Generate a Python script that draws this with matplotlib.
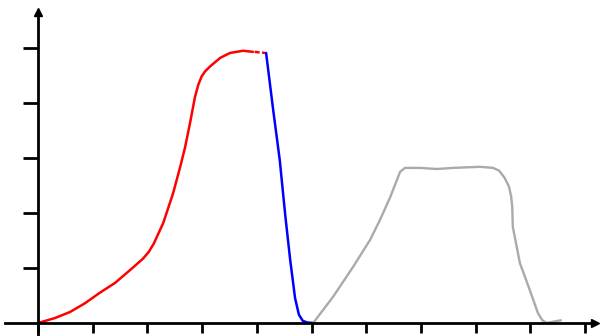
import matplotlib.pyplot as plt

# rising curve (red)
red_x = [0, 0.31, 0.585, 0.86, 1.13, 1.41, 1.68, 1.92, 2.03, 2.12, 2.29, 2.47, 2.60, 2.69,
         2.78, 2.87, 2.93, 2.99, 3.05, 3.14, 3.33, 3.51, 3.75, 3.93]
red_y = [0, 0.09, 0.20, 0.36, 0.55, 0.73, 0.96, 1.17, 1.30, 1.45, 1.82, 2.36, 2.84, 3.20,
         3.64, 4.11, 4.33, 4.48, 4.57, 4.66, 4.82, 4.91, 4.95, 4.93]
red_tail_x = [3.96, 4.15]
red_tail_y = [4.93, 4.91]

# falling curve (blue)
blue_x = [4.17, 4.30, 4.42, 4.52, 4.61, 4.70, 4.77, 4.84, 4.92, 5.03]
blue_y = [4.91, 3.87, 2.96, 1.96, 1.15, 0.45, 0.15, 0.04, 0.01, 0.0]

# second bump (gray)
gray_x = [5.03, 5.39, 5.76, 6.07, 6.25, 6.44, 6.62, 6.71, 6.98, 7.29, 7.59, 8.08,
          8.32, 8.43, 8.53, 8.61, 8.65, 8.67, 8.68, 8.81, 8.99, 9.14, 9.22, 9.30, 9.40, 9.56]
gray_y = [0.0, 0.47, 1.02, 1.51, 1.87, 2.29, 2.75, 2.82, 2.82, 2.80, 2.82, 2.84,
          2.82, 2.77, 2.64, 2.48, 2.30, 2.11, 1.75, 1.09, 0.60, 0.18, 0.05, 0.0, 0.02, 0.05]

xticks = list(range(0, 11))
yticks = list(range(1, 6))

fig = plt.figure(figsize=(6.04, 3.36), dpi=100)
ax = fig.add_axes([0, 0, 1, 1])
ax.set_xlim(-38 / 54.7, 566 / 54.7)
ax.set_ylim(-13 / 55, 323 / 55)

ax.plot(red_x, red_y, color='#ff0000', lw=1.8, solid_capstyle='round', solid_joinstyle='round')
ax.plot(red_tail_x, red_tail_y, color='#ff0000', lw=1.8, ls=(0, (2, 1)))
ax.plot(blue_x, blue_y, color='#0000ff', lw=1.8, solid_capstyle='round', solid_joinstyle='round')
ax.plot(gray_x, gray_y, color='#aaaaaa', lw=1.7, solid_capstyle='round', solid_joinstyle='round')

''''eixos com setas'''
for s in ['top', 'right']:
    ax.spines[s].set_visible(False)
ax.spines['left'].set_position(('data', 0))
ax.spines['bottom'].set_position(('data', 0))
ax.spines['left'].set_linewidth(2)
ax.spines['bottom'].set_linewidth(2)
ax.spines['left'].set_bounds(-13 / 55, 5.67)
ax.spines['bottom'].set_bounds(-0.6, 10.2)
ax.plot(0.985, 0, '>k', ms=6, transform=ax.get_yaxis_transform(), clip_on=False)
ax.plot(0, 0.964, '^k', ms=6, transform=ax.get_xaxis_transform(), clip_on=False)

ax.set_xticks(xticks)
ax.set_yticks(yticks)
ax.set_xticklabels([])
ax.set_yticklabels([])
ax.tick_params(axis='x', direction='out', length=7, width=2)
ax.tick_params(axis='y', direction='out', length=11, width=2)

fig.savefig('out.png', dpi=100)
